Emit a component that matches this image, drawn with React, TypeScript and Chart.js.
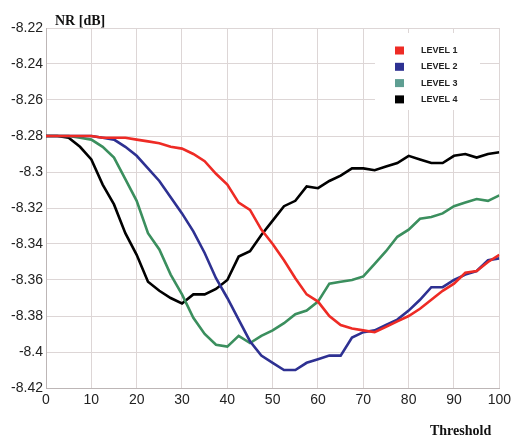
import { useEffect, useRef } from "react";
import { Chart, registerables } from "chart.js";

Chart.register(...registerables);

const thresholds = [0, 2.5, 5, 7.5, 10, 12.5, 15, 17.5, 20, 22.5, 25, 27.5, 30, 32.5, 35, 37.5, 40, 42.5, 45, 47.5, 50, 52.5, 55, 57.5, 60, 62.5, 65, 67.5, 70, 72.5, 75, 77.5, 80, 82.5, 85, 87.5, 90, 92.5, 95, 97.5, 100];

const level1 = [-8.280, -8.280, -8.280, -8.280, -8.280, -8.281, -8.281, -8.281, -8.282, -8.283, -8.284, -8.286, -8.287, -8.290, -8.294, -8.301, -8.307, -8.317, -8.321, -8.332, -8.340, -8.349, -8.359, -8.368, -8.372, -8.380, -8.385, -8.387, -8.388, -8.389, -8.386, -8.383, -8.380, -8.376, -8.371, -8.366, -8.362, -8.356, -8.355, -8.350, -8.346];

const level2 = [-8.280, -8.280, -8.280, -8.280, -8.280, -8.281, -8.282, -8.286, -8.291, -8.298, -8.305, -8.314, -8.323, -8.333, -8.345, -8.359, -8.370, -8.382, -8.394, -8.402, -8.406, -8.410, -8.410, -8.406, -8.404, -8.402, -8.402, -8.392, -8.389, -8.388, -8.385, -8.382, -8.377, -8.371, -8.364, -8.364, -8.360, -8.357, -8.355, -8.349, -8.348];

const level3 = [-8.280, -8.280, -8.280, -8.281, -8.282, -8.286, -8.292, -8.304, -8.316, -8.334, -8.343, -8.357, -8.368, -8.381, -8.390, -8.396, -8.397, -8.391, -8.395, -8.391, -8.388, -8.384, -8.379, -8.377, -8.372, -8.362, -8.361, -8.360, -8.358, -8.351, -8.344, -8.336, -8.332, -8.326, -8.325, -8.323, -8.319, -8.317, -8.315, -8.316, -8.313];

const level4 = [-8.280, -8.280, -8.281, -8.286, -8.293, -8.307, -8.318, -8.334, -8.346, -8.361, -8.366, -8.370, -8.373, -8.368, -8.368, -8.365, -8.360, -8.347, -8.344, -8.335, -8.327, -8.319, -8.316, -8.308, -8.309, -8.305, -8.302, -8.298, -8.298, -8.299, -8.297, -8.295, -8.291, -8.293, -8.295, -8.295, -8.291, -8.290, -8.292, -8.290, -8.289];

const seriesLabels = ["LEVEL 1", "LEVEL 2", "LEVEL 3", "LEVEL 4"];
const lineColors = ["#ee2b25", "#2e3192", "#3b8f5e", "#000000"];
const legendColors = ["#ee2b25", "#2e3192", "#5e9e92", "#000000"];

const yTitle = "NR [dB]";
const xTitle = "Threshold";

export default function App() {
  const ref = useRef<HTMLCanvasElement | null>(null);

  useEffect(() => {
    if (!ref.current) return;
    const allSeries = [level1, level2, level3, level4];
    const overlay = {
      id: "overlay",
      afterDraw(chart: any) {
        const ctx = chart.ctx;
        ctx.save();
        // legend box
        ctx.fillStyle = "#ffffff";
        ctx.fillRect(375, 33, 105, 77);
        chart.data.datasets.forEach((ds: any, i: number) => {
          const y = 50.5 + i * 16.3;
          ctx.fillStyle = legendColors[i];
          ctx.fillRect(395, y - 4, 9, 8);
          ctx.fillStyle = "#222";
          ctx.font = "bold 9px 'Liberation Sans', Arial, sans-serif";
          ctx.textBaseline = "middle";
          ctx.textAlign = "left";
          ctx.fillText(ds.label, 421, y);
        });
        ctx.fillStyle = "#111";
        ctx.font = "bold 14px 'Liberation Serif', 'Times New Roman', serif";
        ctx.textBaseline = "alphabetic";
        ctx.fillText(yTitle, 55, 25);
        ctx.fillText(xTitle, 430, 435);
        ctx.restore();
      },
    };

    const chart = new Chart(ref.current, {
      type: "line",
      data: {
        datasets: allSeries.map((s, i) => ({
          label: seriesLabels[i],
          data: thresholds.map((t, j) => ({ x: t, y: s[j] })),
          borderColor: lineColors[i],
          backgroundColor: legendColors[i],
          borderWidth: 2.6,
          pointRadius: 0,
          tension: 0,
          fill: false,
        })),
      },
      options: {
        responsive: false,
        animation: false,
        layout: { padding: { left: 0, right: 13, top: 28, bottom: 0 } },
        plugins: {
          legend: { display: false },
          tooltip: { enabled: false },
        },
        scales: {
          x: {
            type: "linear",
            min: 0,
            max: 100,
            ticks: {
              stepSize: 10,
              padding: 4,
              color: "#222",
              font: { family: "'Liberation Sans', Arial, sans-serif", size: 14 },
              maxRotation: 0,
            },
            grid: { color: "#ddd6d6", drawTicks: false, lineWidth: 1 },
            border: { color: "#bdb6b6" },
            afterFit(scale: any) {
              scale.height = 48;
            },
          },
          y: {
            min: -8.42,
            max: -8.22,
            ticks: {
              stepSize: 0.02,
              padding: 3,
              color: "#222",
              font: { family: "'Liberation Sans', Arial, sans-serif", size: 14 },
              callback: (v: any) => String(Number(Number(v).toFixed(2))),
            },
            grid: { color: "#ddd6d6", drawTicks: false, lineWidth: 1 },
            border: { color: "#bdb6b6" },
            afterFit(scale: any) {
              scale.width = 46;
            },
          },
        },
      },
      plugins: [overlay],
    });
    return () => chart.destroy();
  }, []);

  return (
    <div style={{ position: "fixed", left: 0, top: 0, width: 515, height: 436, background: "#fff" }}>
      <canvas ref={ref} width={515} height={436} style={{ width: 515, height: 436, display: "block" }} />
    </div>
  );
}
